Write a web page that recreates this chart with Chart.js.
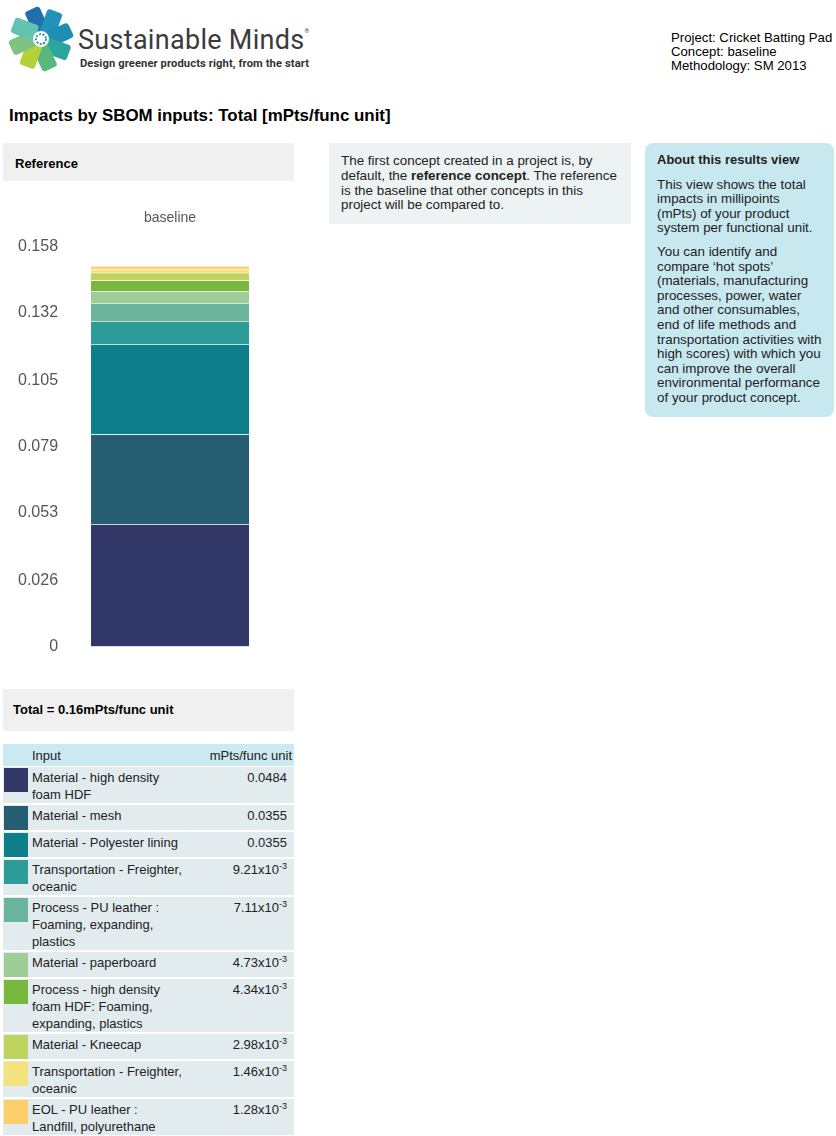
<!DOCTYPE html>
<html>
<head>
<meta charset="utf-8">
<script src="https://cdn.jsdelivr.net/npm/chart.js@4"></script>
<style>
  body { margin: 0; width: 836px; height: 1136px; overflow: hidden; background: #fff;
         font-family: "Liberation Sans", Arial, sans-serif; color: #111; position: relative; }
  .abs { position: absolute; }
  .brand { left: 78px; top: 24px; font-family: Roboto, sans-serif; font-size: 27px; color: #3b3b3d; letter-spacing: 0.3px; white-space: nowrap; }
  .brand sup { font-size: 6px; vertical-align: 16px; }
  .tag { left: 80px; top: 57px; font-family: Roboto, sans-serif; font-weight: bold; font-size: 11.2px; letter-spacing: 0.1px; color: #333; white-space: nowrap; }
  .meta { left: 671px; top: 31px; font-size: 13.2px; line-height: 14px; color: #000; white-space: nowrap; }
  .title { left: 9px; top: 106px; font-size: 16.9px; font-weight: bold; color: #000; white-space: nowrap; }
  .graybox { background: #f0f0f0; font-size: 13px; font-weight: bold; color: #000; }
  .mid { left: 329px; top: 143px; width: 278px; height: 69px; padding: 11px 12px 1px 12px;
         background: #edf2f2; font-size: 13.4px; line-height: 14.8px; color: #222; }
  .about { left: 645px; top: 143px; width: 165px; height: 260px; padding: 10px 12px 4px 12px;
           background: #c8e8f0; border-radius: 8px; font-size: 13.4px; line-height: 14.6px; color: #222; }
  .about h4 { margin: 0 0 10px 0; font-size: 13px; }
  .about p { margin: 0 0 9px 0; }
  #chartWrap { left: 0; top: 190px; width: 300px; height: 480px; }
  table { border-collapse: collapse; font-size: 13px; color: #222; }
  td, th { padding: 0; vertical-align: top; }
  th { background: #cae9f1; font-weight: normal; height: 22px; vertical-align: middle; border-bottom: 1px solid #fff; }
  tr.row td { background: #e2ebee; border-bottom: 2px solid #fff; line-height: 17px; }
  .sw { width: 24px; height: 24px; margin: 1px 0 0 1px; }
  .val { text-align: right; padding: 2px 7px 0 0; }
  .val sup { font-size: 9px; line-height: 0; }
</style>
</head>
<body>

<svg class="abs" style="left:6px;top:4px" width="72" height="70" viewBox="0 0 72 70">
  <g transform="translate(35,35)">
    <g transform="rotate(-90)"><rect x="-4" y="-31" width="16" height="25" rx="3" fill="#2fa9c4" transform="rotate(20)"/></g>
    <g transform="rotate(-45)"><rect x="-4" y="-31" width="16" height="25" rx="3" fill="#1f6fae" transform="rotate(20)"/></g>
    <g transform="rotate(0)"><rect x="-4" y="-31" width="16" height="25" rx="3" fill="#2291bc" transform="rotate(20)"/></g>
    <g transform="rotate(45)"><rect x="-4" y="-31" width="16" height="25" rx="3" fill="#1e8eb2" transform="rotate(20)"/></g>
    <g transform="rotate(90)"><rect x="-4" y="-31" width="16" height="25" rx="3" fill="#2aa69c" transform="rotate(20)"/></g>
    <g transform="rotate(135)"><rect x="-4" y="-31" width="16" height="25" rx="3" fill="#58b87a" transform="rotate(20)"/></g>
    <g transform="rotate(180)"><rect x="-4" y="-31" width="16" height="25" rx="3" fill="#b3d23a" transform="rotate(20)"/></g>
    <g transform="rotate(225)"><rect x="-4" y="-31" width="16" height="25" rx="3" fill="#7cc382" transform="rotate(20)"/></g>
    <g transform="rotate(270)"><rect x="-4" y="-31" width="16" height="25" rx="3" fill="#62c3b2" transform="rotate(20)"/></g>
    <circle r="8" fill="#fff"/>
    <circle r="5" fill="none" stroke="#2b8fc2" stroke-width="2" stroke-dasharray="2 1.5"/>
  </g>
</svg>
<div class="abs brand">Sustainable Minds<sup>®</sup></div>
<div class="abs tag">Design greener products right, from the start</div>

<div class="abs meta">Project: Cricket Batting Pad<br>Concept: baseline<br>Methodology: SM 2013</div>

<div class="abs title">Impacts by SBOM inputs: Total [mPts/func unit]</div>

<div class="abs graybox" style="left:3px;top:143px;width:279px;height:25px;padding:13px 0 0 12px;">Reference</div>

<div class="abs mid">The first concept created in a project is, by default, the <b>reference concept</b>. The reference is the baseline that other concepts in this project will be compared to.</div>

<div class="abs about">
  <h4>About this results view</h4>
  <p>This view shows the total impacts in millipoints (mPts) of your product system per functional unit.</p>
  <p>You can identify and compare ‘hot spots’ (materials, manufacturing processes, power, water and other consumables, end of life methods and transportation activities with high scores) with which you can improve the overall environmental performance of your product concept.</p>
</div>

<div id="chartWrap" class="abs"><canvas id="chart" width="300" height="480"></canvas></div>

<div class="abs graybox" style="left:3px;top:689px;width:281px;height:29px;padding:13px 0 0 10px;">Total = 0.16mPts/func unit</div>

<div class="abs" style="left:3px;top:744px;">
  <table id="tbl" style="width:291px;">
    <colgroup><col style="width:29px"><col style="width:152px"><col></colgroup>
    <tr><th></th><th style="text-align:left;">Input</th><th style="text-align:right;padding-right:2px;">mPts/func unit</th></tr>
  </table>
</div>

<script>
  'use strict';

  /* --- Data --- */
  const category = ['baseline'];
  const inputs = [
    'Material - high density foam HDF',
    'Material - mesh',
    'Material - Polyester lining',
    'Transportation - Freighter, oceanic',
    'Process - PU leather : Foaming, expanding, plastics',
    'Material - paperboard',
    'Process - high density foam HDF: Foaming, expanding, plastics',
    'Material - Kneecap',
    'Transportation - Freighter, oceanic',
    'EOL - PU leather : Landfill, polyurethane'
  ];
  const impacts = [0.0484, 0.0355, 0.0355, 0.00921, 0.00711, 0.00473, 0.00434, 0.00298, 0.00146, 0.00128];
  const impactLabels = ['0.0484', '0.0355', '0.0355', '9.21x10<sup>-3</sup>', '7.11x10<sup>-3</sup>',
    '4.73x10<sup>-3</sup>', '4.34x10<sup>-3</sup>', '2.98x10<sup>-3</sup>', '1.46x10<sup>-3</sup>', '1.28x10<sup>-3</sup>'];
  const colors = ['#313766', '#275d72', '#0c7f8a', '#2e9b98', '#6bb59c',
    '#9ecd96', '#78b83e', '#bfd45e', '#f4e27e', '#fdcf6c'];
  const yTickValues = [0, 0.026, 0.053, 0.079, 0.105, 0.132, 0.158];
  const yTickLabels = ['0', '0.026', '0.053', '0.079', '0.105', '0.132', '0.158'];

  /* --- Table --- */
  const tbl = document.getElementById('tbl');
  inputs.forEach((name, i) => {
    const tr = document.createElement('tr');
    tr.className = 'row';
    tr.innerHTML = '<td><div class="sw" style="background:' + colors[i] + '"></div></td>' +
      '<td style="padding:2px 0 0 0;">' + name + '</td>' +
      '<td class="val">' + impactLabels[i] + '</td>';
    tbl.appendChild(tr);
  });

  /* --- Chart --- */
  const datasets = impacts.map((v, i) => ({
    label: inputs[i],
    data: [v],
    backgroundColor: colors[i],
    borderColor: 'rgba(255,255,255,0.12)',
    borderWidth: { top: 1, bottom: 0, left: 0, right: 0 },
    borderSkipped: false,
    barThickness: 158
  }));

  new Chart(document.getElementById('chart'), {
    type: 'bar',
    data: { labels: category, datasets },
    options: {
      responsive: false,
      animation: false,
      layout: { padding: { left: 4, right: 40, top: 8, bottom: 6 } },
      plugins: { legend: { display: false }, tooltip: { enabled: false } },
      scales: {
        x: {
          stacked: true,
          position: 'top',
          grid: { display: false },
          border: { display: false },
          ticks: { color: '#555', font: { family: 'Liberation Sans', size: 14 }, padding: 12 }
        },
        y: {
          stacked: true,
          min: 0,
          max: 0.158,
          grid: { display: false },
          border: { display: false },
          afterBuildTicks: axis => { axis.ticks = yTickValues.map(v => ({ value: v })); },
          ticks: {
            color: '#555',
            padding: 14,
            font: { family: 'Liberation Sans', size: 16 },
            callback: (v, idx) => yTickLabels[idx]
          }
        }
      }
    }
  });
</script>
</body>
</html>
